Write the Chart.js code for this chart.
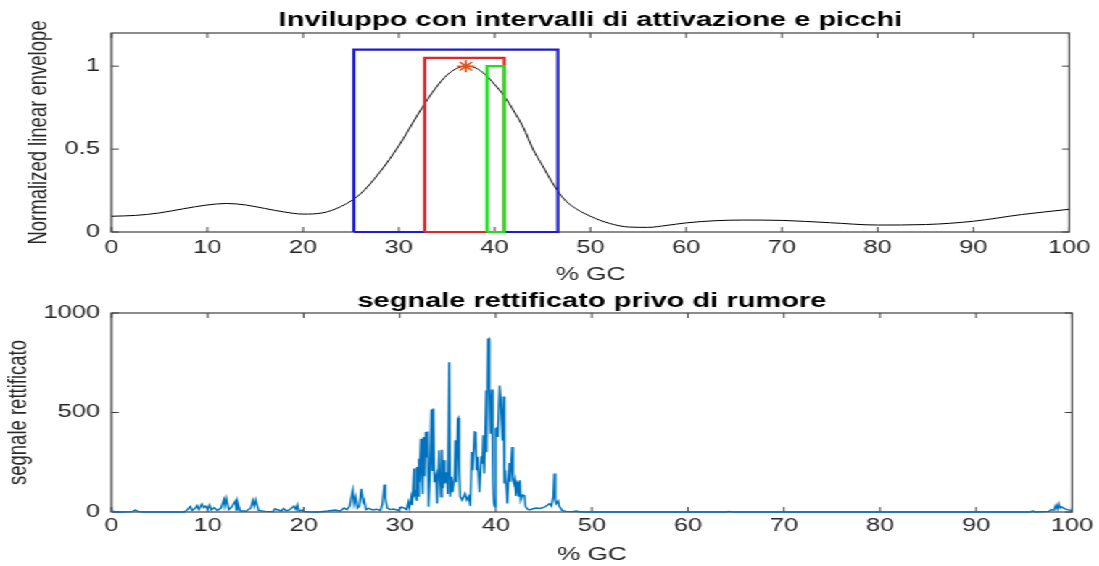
<!DOCTYPE html>
<html>
<head>
<meta charset="utf-8">
<script src="https://cdn.jsdelivr.net/npm/chart.js@4.4.1/dist/chart.umd.min.js"></script>
<style>
  html, body { margin: 0; padding: 0; background: #ffffff; overflow: hidden; }
  #wrap { position: absolute; left: 0; top: 0; width: 758px; height: 566px; transform: scaleX(1.45); transform-origin: 0 0; }
  canvas { display: block; }
</style>
</head>
<body>
<div id="wrap">
  <canvas id="c1" width="758" height="286" style="width:758px;height:286px"></canvas>
  <canvas id="c2" width="758" height="280" style="width:758px;height:280px"></canvas>
</div>
<script>
// ---------- DATA ----------
const xTicks = [0, 10, 20, 30, 40, 50, 60, 70, 80, 90, 100];
const xTickLabels = ['0', '10', '20', '30', '40', '50', '60', '70', '80', '90', '100'];
const yTicksTop = [0, 0.5, 1];
const yTickLabelsTop = ['0', '0.5', '1'];
const yTicksBottom = [0, 500, 1000];
const yTickLabelsBottom = ['0', '500', '1000'];

const titleTop = 'Inviluppo con intervalli di attivazione e picchi';
const titleBottom = 'segnale rettificato privo di rumore';
const xTitle = '% GC';
const yTitleTop = 'Normalized linear envelope';
const yTitleBottom = 'segnale rettificato';

// normalized linear envelope
const envX = [0, 2.5, 5, 7.5, 10, 12, 14, 16, 18, 20, 22, 24, 26, 28, 30, 32, 33, 34, 35, 36, 37, 38, 39, 40, 41, 42, 43, 44, 45, 46, 47, 48, 50, 52, 54, 56, 58, 60, 63, 66, 70, 75, 80, 85, 90, 95, 100];
const envY = [0.095, 0.10, 0.115, 0.14, 0.163, 0.172, 0.163, 0.142, 0.121, 0.108, 0.115, 0.155, 0.23, 0.36, 0.52, 0.71, 0.80, 0.88, 0.945, 0.985, 1.0, 0.99, 0.95, 0.89, 0.82, 0.73, 0.63, 0.50, 0.40, 0.30, 0.215, 0.16, 0.095, 0.052, 0.03, 0.028, 0.04, 0.055, 0.068, 0.072, 0.07, 0.056, 0.042, 0.045, 0.065, 0.105, 0.137];

// activation intervals [start, end, height]
const blueInterval = [25.3, 46.6, 1.1];
const redInterval = [32.7, 41.0, 1.05];
const greenInterval = [39.2, 41.0, 1.0];

// peak
const peakX = [37.0];
const peakY = [1.0];

// rectified signal
const sigAX = [0, 0.3, 0.6, 1.0, 2.2, 2.5, 2.7, 3.0, 3.4, 7.6, 7.9, 8.2, 8.4, 8.7, 8.9, 9.1, 9.4, 9.6, 9.8, 10.0, 10.2, 10.4, 10.7, 11.0, 11.4, 11.7, 11.8, 11.95, 12.2, 12.5, 12.9, 13.0, 13.1, 13.4, 14.0, 14.5, 14.7, 14.85, 15.0, 15.3, 16.0, 16.8, 17.0, 17.7, 17.9, 18.2, 18.5, 19.0, 19.2, 19.35, 19.5, 19.8, 20.0, 20.4, 21.5, 22.5, 23.3, 23.8, 24.2, 24.5, 24.8, 25.1, 25.25, 25.4, 25.6, 25.8, 26.0, 26.2, 26.3, 26.5, 26.8, 27.2, 27.6, 28.0, 28.2, 28.4, 28.5, 28.7, 29.0, 29.4, 29.8, 30.2, 30.5];
const sigAY = [6, 2, 0, 0, 2, 10, 4, 1, 0, 0, 12, 28, 8, 18, 33, 12, 40, 22, 30, 15, 35, 10, 22, 8, 20, 62, 30, 68, 12, 25, 55, 10, 52, 6, 4, 20, 58, 30, 60, 8, 3, 2, 15, 5, 18, 6, 10, 30, 12, 35, 5, 10, 3, 1, 0, 5, 10, 4, 20, 12, 30, 108, 40, 75, 20, 30, 117, 50, 60, 12, 18, 10, 14, 8, 40, 138, 70, 20, 12, 15, 8, 25, 18];
const sigBX = [30.7, 30.9, 31.0, 31.2, 31.3, 31.5, 31.55, 31.65, 31.75, 31.8, 31.9, 32.0, 32.05, 32.2, 32.3, 32.4, 32.5, 32.6, 32.7, 32.8, 32.9, 33.0, 33.15, 33.3, 33.4, 33.5, 33.6, 33.8, 33.9, 34.1, 34.2, 34.3, 34.4, 34.5, 34.6, 34.7, 34.9, 35.0, 35.15, 35.25, 35.4, 35.5, 35.7, 35.8, 35.9, 36.05, 36.1, 36.2, 36.3, 36.5, 36.8, 37.0, 37.2, 37.35, 37.5, 37.6, 37.8, 37.9, 38.0, 38.1, 38.3, 38.5, 38.6, 38.7, 38.8, 38.9, 39.0, 39.05, 39.2, 39.3, 39.35, 39.45, 39.6, 39.7, 39.8, 39.9, 40.0, 40.1, 40.2, 40.4, 40.5, 40.6, 40.7, 40.8, 40.9, 41.0, 41.2, 41.4, 41.5, 41.7, 41.8, 41.9, 42.0, 42.1, 42.3, 42.4, 42.5, 42.6, 42.8, 43.0, 43.1, 43.3, 43.5];
const sigBY = [12, 48, 20, 73, 35, 218, 90, 100, 60, 226, 80, 268, 150, 368, 177, 90, 377, 180, 402, 277, 405, 27, 200, 515, 210, 520, 150, 185, 43, 310, 177, 77, 313, 120, 260, 143, 200, 90, 752, 77, 177, 100, 168, 360, 150, 468, 472, 210, 77, 60, 93, 60, 77, 30, 302, 210, 402, 400, 210, 277, 100, 280, 243, 385, 193, 392, 610, 300, 868, 871, 618, 393, 615, 160, 43, 27, 418, 422, 377, 635, 577, 577, 360, 580, 143, 210, 43, 246, 152, 327, 160, 143, 162, 80, 152, 77, 160, 60, 85, 82, 27, 15, 10];
const sigCX = [43.8, 44.2, 44.6, 45.1, 45.4, 45.6, 45.8, 46.0, 46.1, 46.2, 46.3, 46.5, 46.6, 46.9, 47.3, 48.0, 48.4, 48.7, 49.5, 64.0, 64.3, 64.6, 95.6, 95.9, 96.2, 97.6, 97.8, 98.1, 98.3, 98.45, 98.6, 98.75, 98.9, 99.2, 99.5, 99.9, 100];
const sigCY = [15, 20, 18, 25, 35, 42, 30, 80, 193, 60, 42, 55, 30, 8, 3, 2, 5, 1, 0, 0, 3, 0, 0, 5, 0, 3, 12, 8, 33, 15, 42, 20, 25, 17, 12, 8, 5];

// ---------- HELPERS ----------
const FONT = "'Liberation Sans', Arial, Helvetica, sans-serif";
const TICK_COLOR = '#262626';
const AXIS_COLOR = '#404040';

function pts(xs, ys) {
  const n = Math.min(xs.length, ys.length);
  const out = [];
  for (let i = 0; i < n; i++) out.push({ x: xs[i], y: ys[i] });
  return out;
}
function rect(iv) {
  const [a, b, h] = iv;
  return pts([a, a, b, b, a], [0, h, h, 0, 0]);
}

const boxPlugin = {
  id: 'matlabBox',
  beforeDatasetsDraw(chart) {
    const { ctx, chartArea: a, scales } = chart;
    const x = scales.x, y = scales.y;
    ctx.save();
    ctx.strokeStyle = AXIS_COLOR;
    ctx.lineWidth = 1.2;
    ctx.strokeRect(a.left, a.top, a.right - a.left, a.bottom - a.top);
    ctx.lineWidth = 1;
    ctx.beginPath();
    x.ticks.forEach(t => {
      const px = x.getPixelForValue(t.value);
      ctx.moveTo(px, a.bottom); ctx.lineTo(px, a.bottom - 5);
      ctx.moveTo(px, a.top); ctx.lineTo(px, a.top + 5);
    });
    y.ticks.forEach(t => {
      const py = y.getPixelForValue(t.value);
      ctx.moveTo(a.left, py); ctx.lineTo(a.left + 5, py);
      ctx.moveTo(a.right, py); ctx.lineTo(a.right - 5, py);
    });
    ctx.stroke();
    ctx.restore();
  }
};

function makeOptions(cfg) {
  return {
    responsive: false,
    maintainAspectRatio: false,
    animation: false,
    devicePixelRatio: 1,
    layout: { padding: { left: 0, right: 18.1, top: 0, bottom: 0 } },
    plugins: {
      legend: { display: false },
      tooltip: { enabled: false },
      title: {
        display: true,
        text: cfg.title,
        color: '#000000',
        fullSize: false,
        font: { family: FONT, size: 20, weight: 'bold' },
        padding: cfg.titlePad
      }
    },
    scales: {
      x: {
        type: 'linear',
        min: 0, max: 100,
        grid: { display: false, drawTicks: false, tickLength: 0 },
        border: { display: false },
        afterBuildTicks: s => { s.ticks = xTicks.map(v => ({ value: v })); },
        afterFit: s => { s.height = 54; },
        ticks: {
          autoSkip: false, maxRotation: 0,
          color: TICK_COLOR,
          padding: cfg.xTickPad,
          font: { family: FONT, size: 17.5 },
          callback: (v, i) => xTickLabels[i]
        },
        title: {
          display: true, text: xTitle, color: TICK_COLOR,
          font: { family: FONT, size: 18 },
          padding: { top: 0, bottom: cfg.xTitlePad }
        }
      },
      y: {
        type: 'linear',
        min: cfg.yMin, max: cfg.yMax,
        grid: { display: false, drawTicks: false, tickLength: 0 },
        border: { display: false },
        afterBuildTicks: s => { s.ticks = cfg.yTicks.map(v => ({ value: v })); },
        afterFit: s => { s.width = 76.9; },
        ticks: {
          autoSkip: false,
          color: TICK_COLOR,
          padding: 8,
          font: { family: FONT, size: 17.5 },
          callback: (v, i) => cfg.yLabels[i]
        },
        title: {
          display: true, text: cfg.yTitle, color: '#262626',
          font: { family: FONT, size: 18.5 },
          padding: { top: cfg.yTitlePad, bottom: 0 }
        }
      }
    }
  };
}

// ---------- TOP CHART ----------
new Chart(document.getElementById('c1'), {
  type: 'line',
  data: {
    datasets: [
      { data: pts(peakX, peakY), showLine: false, pointStyle: 'star', pointRadius: 6, pointBorderColor: '#D95319', pointBorderWidth: 1.5, pointBackgroundColor: '#D95319', order: 0, clip: false },
      { data: rect(greenInterval), borderColor: '#1ee01e', borderWidth: 2.2, pointRadius: 0, fill: false, order: 1, clip: false },
      { data: rect(redInterval), borderColor: '#e02828', borderWidth: 2.2, pointRadius: 0, fill: false, order: 2, clip: false },
      { data: rect(blueInterval), borderColor: '#1c1cd2', borderWidth: 2.2, pointRadius: 0, fill: false, order: 3, clip: false },
      { data: pts(envX, envY), borderColor: '#000000', borderWidth: 1, pointRadius: 0, fill: false, cubicInterpolationMode: 'monotone', order: 4, clip: false }
    ]
  },
  options: makeOptions({
    title: titleTop, titlePad: { top: 8, bottom: 1 },
    xTickPad: 6, xTitlePad: 0.5,
    yMin: 0, yMax: 1.2, yTicks: yTicksTop, yLabels: yTickLabelsTop,
    yTitle: yTitleTop, yTitlePad: 15.4
  }),
  plugins: [boxPlugin]
});

// ---------- BOTTOM CHART ----------
new Chart(document.getElementById('c2'), {
  type: 'line',
  data: {
    datasets: [
      { data: pts(sigAX, sigAY).concat(pts(sigBX, sigBY), pts(sigCX, sigCY)), borderColor: '#0072BD', borderWidth: 1.4, pointRadius: 0, fill: false, clip: false }
    ]
  },
  options: makeOptions({
    title: titleBottom, titlePad: { top: 3, bottom: 0 },
    xTickPad: 4, xTitlePad: 0.5,
    yMin: 0, yMax: 1000, yTicks: yTicksBottom, yLabels: yTickLabelsBottom,
    yTitle: yTitleBottom, yTitlePad: 1.6
  }),
  plugins: [boxPlugin]
});
</script>
</body>
</html>
